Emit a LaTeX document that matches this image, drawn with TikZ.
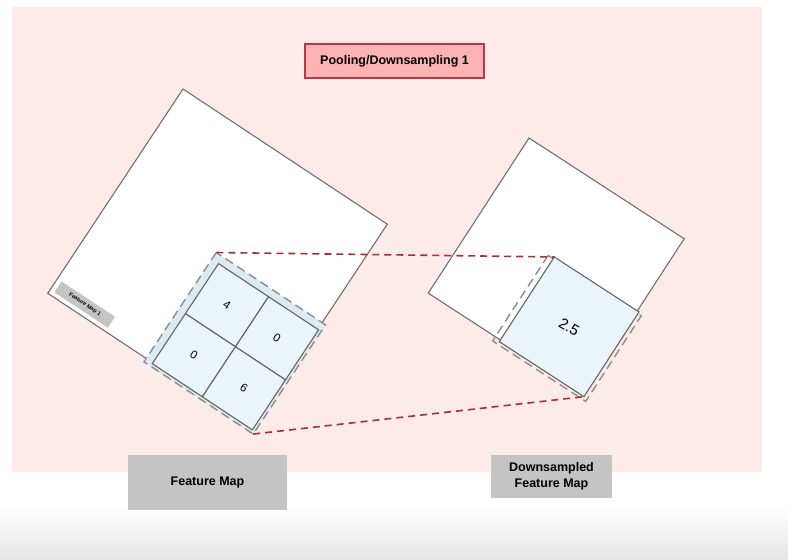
\documentclass[tikz,border=0pt]{standalone}
\usepackage{fontspec}
\setmainfont{Liberation Sans}
\usepackage{xcolor}

\definecolor{bgpink}{HTML}{FCEBE9}
\definecolor{titlefill}{HTML}{FBB3B3}
\definecolor{titleedge}{HTML}{C23447}
\definecolor{linkred}{HTML}{B32838}
\definecolor{poolfill}{HTML}{DCEBF1}
\definecolor{cellfill}{HTML}{EAF4F9}
\definecolor{mapedge}{HTML}{707070}
\definecolor{labelgray}{HTML}{C4C4C4}

\tikzset{
  mapsquare/.style={draw=mapedge, fill=white, line width=1.1pt},
  poolregion/.style={draw=mapedge!80, fill=poolfill, dashed, dash pattern=on 9pt off 5pt, line width=1.4pt},
  cellbox/.style={draw=mapedge!90!black, fill=cellfill, line width=1.1pt},
  link/.style={draw=linkred, dashed, dash pattern=on 7pt off 5pt, line width=1.6pt},
  graybox/.style={fill=labelgray, font=\bfseries\fontsize{12.5}{16}\selectfont, align=center, inner sep=0pt}
}

\begin{document}
\begin{tikzpicture}[x=1pt, y=-1pt]
        \useasboundingbox (0,0) rectangle (788,560);
        \fill[white] (0,0) rectangle (788,560);
        \shade[top color=white, bottom color=black!10] (0,505) rectangle (788,560);
        \fill[bgpink] (12,7) rectangle (762,472);

        \node[draw=titleedge, fill=titlefill, line width=1.3pt, minimum width=179pt, minimum height=34pt,
              font=\bfseries\fontsize{12.5}{15}\selectfont] (title) at (394.5,61) {Pooling/Downsampling 1};

        % feature map with the 2x2 pooling window
        \begin{scope}[shift={(183,89)}, rotate=-33.5]
            \draw[mapsquare] (0,0) rectangle (245,245);
            \node[fill=labelgray, rotate=-33.5, minimum width=64pt, minimum height=13pt, inner sep=0pt,
                  font=\bfseries\fontsize{5.5}{6}\selectfont] (fmlabel) at (37,234) {Feature Map 1};
            \draw[poolregion] (118,118) rectangle (249,249);
            \coordinate (pooltop) at (118,118);
            \coordinate (poolbot) at (249,249);
            \draw[cellbox] (126,126) rectangle (186,186);
            \draw[cellbox] (186,126) rectangle (246,186);
            \draw[cellbox] (126,186) rectangle (186,246);
            \draw[cellbox] (186,186) rectangle (246,246);
            \node[rotate=-33.5, font=\fontsize{11.5}{13}\selectfont] (c11) at (156,156) {4};
            \node[rotate=-33.5, font=\fontsize{11.5}{13}\selectfont] (c12) at (216,156) {0};
            \node[rotate=-33.5, font=\fontsize{11.5}{13}\selectfont] (c21) at (156,216) {0};
            \node[rotate=-33.5, font=\fontsize{11.5}{13}\selectfont] (c22) at (216,216) {6};
        \end{scope}

        % downsampled feature map
        \begin{scope}[shift={(529,138)}, rotate=-33]
            \draw[mapsquare] (0,0) rectangle (185,185);
            \draw[poolregion, fill=none] (80,88) rectangle (191,190);
            \draw[cellbox] (86,86) rectangle (187,187);
            \coordinate (celltop) at (86,86);
            \coordinate (cellbot) at (187,187);
            \node[rotate=-30, font=\fontsize{15}{17}\selectfont] (pooled) at (136.5,136.5) {2.5};
        \end{scope}

        \draw[link] (pooltop) -- (celltop);
        \draw[link] (poolbot) -- (cellbot);

        \node[graybox, minimum width=159pt, minimum height=55pt] (fmname) at (207.5,482.5) {Feature Map};
        \node[graybox, minimum width=121pt, minimum height=43pt] (dsname) at (551.5,476.5) {Downsampled\\Feature Map};
\end{tikzpicture}
\end{document}
